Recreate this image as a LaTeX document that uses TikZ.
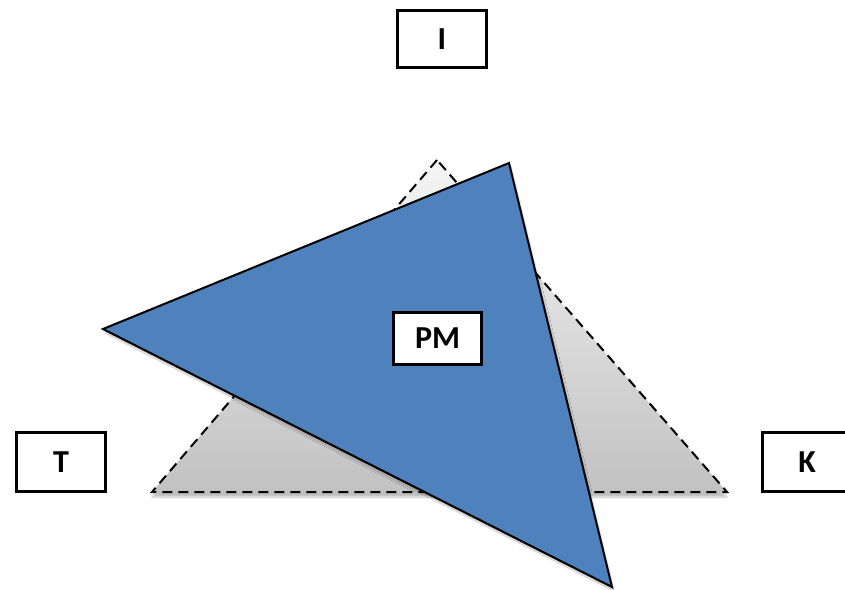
\documentclass[tikz,border=0pt]{standalone}
\usepackage{fontspec}
\setmainfont{Carlito}
\usetikzlibrary{shadows,shadows.blur}
\definecolor{pmblue}{HTML}{4F81BD}
\tikzset{
  lbl/.style={draw=black, line width=3.2pt, fill=white, inner sep=0pt,
    minimum width=89pt, minimum height=57pt,
    font=\fontsize{32}{36}\selectfont\bfseries},
  graytri/.style={draw=black, line width=2pt, dash pattern=on 10pt off 6pt,
    top color=gray!8, bottom color=gray!48,
    blur shadow={shadow xshift=0pt, shadow yshift=-5pt, shadow opacity=25, shadow blur steps=8}},
  bluetri/.style={draw=black, line width=2pt, fill=pmblue, line join=miter,
    blur shadow={shadow xshift=2pt, shadow yshift=-4pt, shadow opacity=25, shadow blur steps=8}}
}
\begin{document}
\begin{tikzpicture}[x=1pt, y=-1pt]
  \clip (0,0) rectangle (845,589);
  \coordinate (ga) at (437,160);
  \coordinate (gl) at (152,492);
  \coordinate (gr) at (727,492);
  \coordinate (bt) at (509,163);
  \coordinate (bl) at (103,329);
  \coordinate (bb) at (612,587);
  \path[graytri] (ga) -- (gl) -- (gr) -- cycle;
  \path[bluetri] (bt) -- (bl) -- (bb) -- cycle;
  \node[lbl] (I) at (442,39) {I};
  \node[lbl, minimum width=88pt, minimum height=52pt] (PM) at (437.5,338.5) {PM};
  \node[lbl, minimum height=59pt] (T) at (61,462) {T};
  \node[lbl, minimum height=59pt] (K) at (807,462) {K};
\end{tikzpicture}
\end{document}
